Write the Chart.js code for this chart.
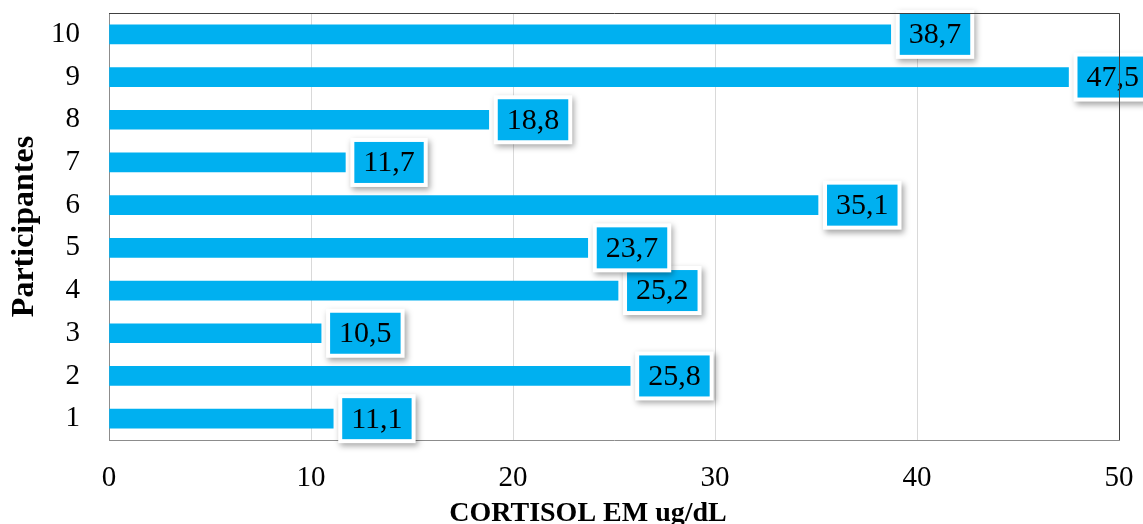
<!DOCTYPE html>
<html>
<head>
<meta charset="utf-8">
<script src="https://cdn.jsdelivr.net/npm/chart.js@4/dist/chart.umd.min.js"></script>
<style>
  html, body { margin: 0; padding: 0; background: #ffffff; }
  canvas { display: block; }
</style>
</head>
<body>
<canvas id="chart" width="1143" height="524"></canvas>
<script>
// Participants (category axis) and their cortisol readings in ug/dL
const participants = ['1', '2', '3', '4', '5', '6', '7', '8', '9', '10'];
const cortisol = [11.1, 25.8, 10.5, 25.2, 23.7, 35.1, 11.7, 18.8, 47.5, 38.7];
const xTicks = [0, 10, 20, 30, 40, 50];

const SERIF = "'Liberation Serif', 'Times New Roman', serif";
const BAR_COLOR = '#00B0F0';

const fmt = v => v.toFixed(1).replace('.', ',');

// Keep the plot area fixed: drop the extra room scales reserve for edge labels
const noEdgePadding = s => {
  s.paddingTop = 0;
  s.paddingBottom = 0;
  s.paddingLeft = 0;
  s.paddingRight = 0;
};

// Boxed value labels at the end of each bar
const valueBoxes = {
  id: 'valueBoxes',
  afterDatasetsDraw(chart) {
    const ctx = chart.ctx;
    const meta = chart.getDatasetMeta(0);
    ctx.save();
    ctx.font = '30px ' + SERIF;
    meta.data.forEach((bar, i) => {
      const text = fmt(chart.data.datasets[0].data[i]);
      const tw = ctx.measureText(text).width;
      const w = tw + 18;
      const h = 41;
      const x = bar.x + 9;
      const y = bar.y - h / 2;
      // white frame with soft shadow
      ctx.save();
      ctx.shadowColor = 'rgba(0,0,0,0.35)';
      ctx.shadowBlur = 6;
      ctx.shadowOffsetX = 2;
      ctx.shadowOffsetY = 3;
      ctx.fillStyle = '#ffffff';
      ctx.fillRect(x - 4, y - 4, w + 8, h + 8);
      ctx.restore();
      ctx.fillStyle = BAR_COLOR;
      ctx.fillRect(x, y, w, h);
      ctx.fillStyle = '#000000';
      ctx.textAlign = 'center';
      ctx.textBaseline = 'middle';
      ctx.fillText(text, x + w / 2, bar.y + 1);
    });
    ctx.restore();
  }
};

// Dark top/right frame and the x-axis title
const frame = {
  id: 'frame',
  afterDraw(chart) {
    const { ctx, chartArea: a } = chart;
    ctx.save();
    ctx.strokeStyle = '#404040';
    ctx.lineWidth = 1;
    ctx.beginPath();
    ctx.moveTo(a.left, a.top + 0.5);
    ctx.lineTo(a.right + 0.5, a.top + 0.5);
    ctx.lineTo(a.right + 0.5, a.bottom);
    ctx.stroke();
    ctx.fillStyle = '#000000';
    ctx.font = 'bold 28px ' + SERIF;
    ctx.textAlign = 'center';
    ctx.textBaseline = 'middle';
    ctx.fillText('CORTISOL EM ug/dL', 588, 514);
    ctx.restore();
  }
};

new Chart(document.getElementById('chart'), {
  type: 'bar',
  data: {
    labels: participants,
    datasets: [{
      data: cortisol,
      backgroundColor: BAR_COLOR,
      borderWidth: 0,
      barThickness: 19
    }]
  },
  options: {
    indexAxis: 'y',
    responsive: false,
    devicePixelRatio: 1,
    animation: false,
    layout: { padding: { top: 13, right: 24, left: 0, bottom: 0 } },
    plugins: {
      legend: { display: false },
      tooltip: { enabled: false }
    },
    scales: {
      x: {
        min: 0,
        max: 50,
        afterBuildTicks: s => { s.ticks = xTicks.map(v => ({ value: v })); },
        afterFit: s => { s.height = 84; noEdgePadding(s); },
        grid: { color: '#d9d9d9', drawTicks: false, tickLength: 0 },
        border: { color: '#8c8c8c', width: 1 },
        ticks: {
          color: '#000000',
          padding: 21,
          font: { family: SERIF, size: 29 }
        }
      },
      y: {
        reverse: true,
        afterFit: s => { s.width = 109; noEdgePadding(s); },
        grid: { display: false, drawTicks: false, tickLength: 0 },
        border: { color: '#8c8c8c', width: 1 },
        ticks: {
          color: '#000000',
          padding: 29,
          font: { family: SERIF, size: 29 }
        },
        title: {
          display: true,
          text: 'Participantes',
          color: '#000000',
          padding: { top: 9, bottom: 0 },
          font: { family: SERIF, size: 32, weight: 'bold', lineHeight: 1 }
        }
      }
    }
  },
  plugins: [valueBoxes, frame]
});
</script>
</body>
</html>
